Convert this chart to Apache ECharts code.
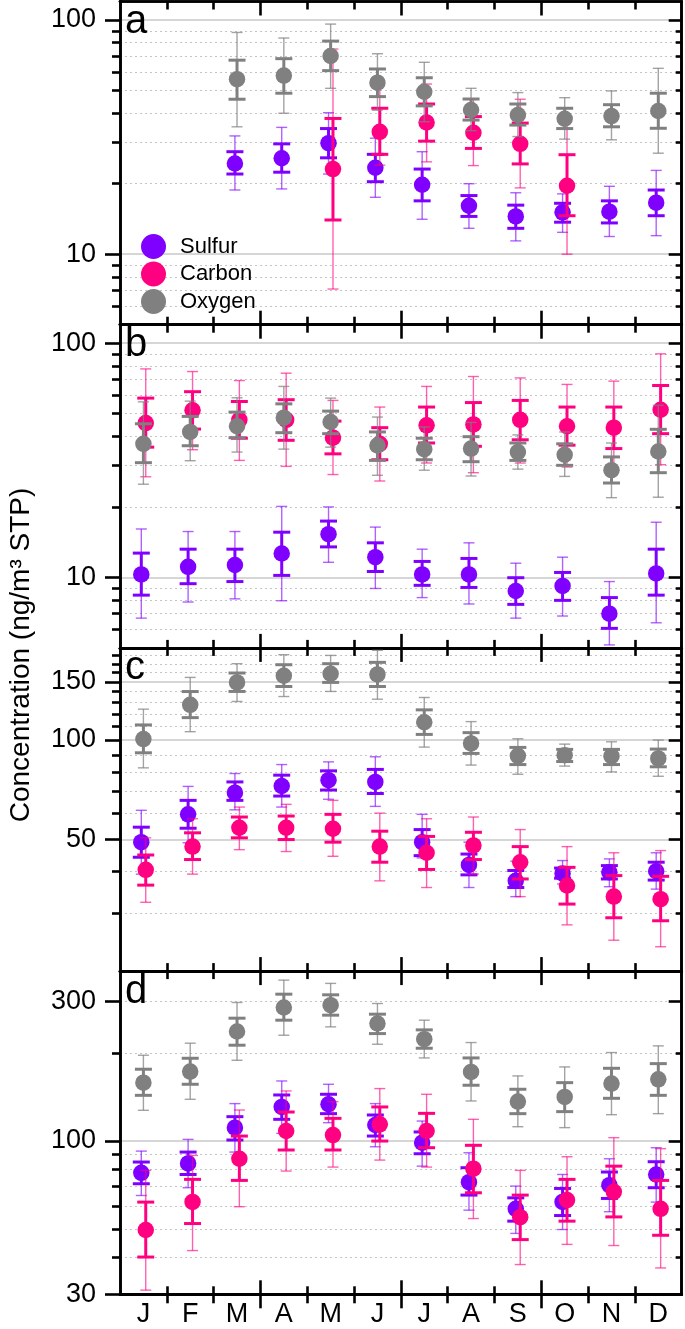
<!DOCTYPE html>
<html>
<head>
<meta charset="utf-8">
<script src="https://cdn.jsdelivr.net/npm/echarts@6/dist/echarts.min.js"></script>
<style>
html,body{margin:0;padding:0;background:#fff;}
#chart{width:685px;height:1329px;}
</style>
</head>
<body>
<div id="chart"></div>
<script>
// ---------- categories / ticks ----------
const months = ['J','F','M','A','M','J','J','A','S','O','N','D'];
const monthPos = [1,2,3,4,5,6,7,8,9,10,11,12];
const monthBoundsMinor = [1.5,2.5,4.5,5.5,7.5,8.5,10.5,11.5];
const monthBoundsMajor = [3.5,6.5,9.5];
const seriesNames = ['Sulfur','Carbon','Oxygen'];

// y ticks per panel
const abMajor = [10,100];
const abMinor = [6,7,8,9,20,30,40,50,60,70,80,90];
const cMajor = [50,100,150];
const cMinor = [30,40,60,70,80,90,110,120,130,140,160,170,180];
const dMajor = [30,100,300];
const dMinor = [40,50,60,70,80,90,200];
const dSolid = [100];
const dDotted = [40,50,60,70,80,90,200,300];

// ---------- data ----------
// rows: [month, mean, innerLow, innerHigh, outerLow, outerHigh]
const aSulfur = [
 [3,24.4,22.0,27.4,18.8,32.0],[4,25.7,22.4,29.6,19.0,34.8],[5,29.8,25.8,34.4,22.0,40.2],
 [6,23.4,20.4,26.7,17.5,31.3],[7,19.8,16.9,23.1,14.1,27.4],[8,16.1,14.5,17.8,12.9,20.0],
 [9,14.5,12.9,16.2,11.4,18.3],[10,15.1,13.7,16.5,12.4,18.1],[11,15.2,13.6,16.9,11.9,19.5],
 [12,16.6,14.6,18.8,12.0,22.8]
];
const aCarbon = [
 [5,23.1,14.0,38.0,7.1,75.2],[6,33.3,26.7,42.0,24.0,55.1],[7,36.5,30.4,43.8,24.8,53.3],
 [8,33.0,28.3,38.7,23.9,46.0],[9,29.6,24.3,36.3,19.2,45.9],[10,19.6,14.6,26.6,10.0,38.4]
];
const aOxygen = [
 [3,55.9,45.9,67.4,35.0,88.5],[4,57.9,48.7,68.4,40.0,83.8],[5,70.2,60.8,81.3,51.1,96.1],
 [6,54.0,47.1,61.8,41.2,71.8],[7,49.4,43.0,56.7,36.8,66.0],[8,41.3,37.4,46.0,33.7,51.1],
 [9,39.3,35.6,43.8,31.8,49.0],[10,37.9,34.4,42.0,31.0,46.6],[11,38.9,35.0,43.5,30.8,49.8],
 [12,40.9,34.5,48.7,27.0,62.2]
];
const bSulfur = [
 [1,10.3,8.4,12.7,6.7,16.1],[2,11.1,9.4,13.2,7.85,15.7],[3,11.3,9.6,13.2,8.1,15.7],
 [4,12.65,10.2,15.6,7.95,20.1],[5,15.3,13.5,17.4,11.6,20.0],[6,12.2,10.6,14.05,8.97,16.4],
 [7,10.3,9.25,11.7,8.2,13.2],[8,10.3,9.06,12.05,7.7,14.05],[9,8.75,7.67,9.97,6.7,11.5],
 [10,9.2,7.98,10.5,6.84,12.2],[11,7.0,6.06,8.2,5.15,9.6],[12,10.4,8.4,13.2,6.4,17.2]
];
const bCarbon = [
 [1,45.6,36.0,58.3,26.9,77.7],[2,51.7,43.0,62.1,35.1,75.7],[3,47.1,39.3,56.4,31.6,69.3],
 [4,47.1,38.5,57.4,29.8,74.5],[5,39.5,33.7,46.5,27.5,57.0],[6,37.2,31.8,43.6,25.8,53.4],
 [7,44.6,37.5,53.4,30.8,65.4],[8,45.0,36.3,55.8,28.0,72.1],[9,47.1,38.7,57.0,30.8,71.1],
 [10,44.2,36.7,53.4,29.6,66.7],[11,43.6,35.5,53.4,28.8,68.9],[12,52.0,41.1,66.0,30.3,90.1]
];
const bOxygen = [
 [1,37.2,30.9,45.3,25.0,56.2],[2,41.8,36.5,48.7,31.5,56.6],[3,44.2,39.5,50.8,34.3,58.5],
 [4,48.1,41.5,55.1,35.3,65.4],[5,46.1,41.1,51.3,36.0,58.3],[6,36.6,31.6,41.8,27.3,48.4],
 [7,35.3,31.8,39.3,28.7,43.9],[8,35.5,31.2,39.9,27.1,45.9],[9,34.3,31.6,37.5,29.0,40.6],
 [10,33.4,30.1,37.2,27.0,41.8],[11,28.7,25.3,32.7,21.9,37.5],[12,34.5,28.0,42.9,22.0,54.3]
];
const cSulfur = [
 [1,49.1,44.2,54.5,39.3,61.3],[2,59.6,54.1,65.7,48.9,72.4],[3,69.3,65.7,74.7,61.5,79.2],
 [4,72.6,67.7,78.3,62.7,84.3],[5,75.6,70.6,80.7,66.2,85.9],[6,74.7,68.9,81.5,63.0,89.0],
 [7,49.1,44.7,53.6,44.0,59.6],[8,41.9,39.1,45.2,35.8,49.1],[9,37.5,35.8,40.3,33.6,43.0],
 [10,39.5,38.2,41.0,36.7,43.2],[11,39.8,38.0,41.7,36.0,43.7],[12,40.1,37.7,42.7,35.4,45.6]
];
const cCarbon = [
 [1,40.5,36.4,44.9,32.3,50.6],[2,47.6,43.5,52.4,39.3,57.8],[3,54.3,50.6,58.5,46.6,62.7],
 [4,54.3,50.0,58.9,46.0,63.9],[5,53.9,49.1,59.6,44.5,65.7],[6,47.6,42.7,53.0,37.5,60.1],
 [7,45.6,40.6,51.1,35.8,57.8],[8,48.0,43.5,52.6,39.3,58.5],[9,42.7,38.0,47.6,33.6,53.6],
 [10,36.3,31.9,41.2,27.6,47.6],[11,33.6,29.0,38.9,24.8,45.6],[12,33.0,28.4,38.7,23.7,46.3]
];
const cOxygen = [
 [1,100.7,91.5,111.1,82.4,124.0],[2,127.8,116.9,140.2,106.0,154.7],[3,149.4,140.3,159.5,130.8,170.2],
 [4,156.5,145.2,169.0,135.4,181.2],[5,158.7,149.4,170.2,140.3,180.3],[6,158.0,145.2,171.8,132.9,186.8],
 [7,113.2,104.0,123.4,95.2,134.5],[8,97.7,91.1,105.3,84.0,113.7],[9,89.6,84.3,95.0,78.8,100.9],
 [10,90.0,86.1,93.7,83.4,97.2],[11,89.4,84.3,93.7,80.1,98.8],[12,88.0,83.0,93.9,77.7,100.0]
];
const dSulfur = [
 [1,77.9,71.5,84.8,65.2,92.4],[2,83.9,76.9,91.7,69.3,101.3],[3,111.1,100.8,121.1,91.7,134.2],
 [4,130.7,118.6,143.6,106.2,160.3],[5,133.5,124.0,144.4,115.5,156.2],[6,113.4,104.0,122.7,95.6,134.2],
 [7,98.7,90.5,107.4,82.1,117.0],[8,72.4,65.4,81.1,58.1,91.2],[9,58.7,53.3,64.0,48.4,70.2],
 [10,62.0,55.7,68.9,49.9,76.9],[11,70.7,63.7,78.4,57.4,87.0],[12,76.9,69.3,85.0,61.9,94.9]
];
const dCarbon = [
 [1,49.7,40.2,61.9,31.0,79.4],[2,62.0,52.3,74.0,42.3,89.3],[3,87.0,73.4,104.0,59.7,127.6],
 [4,108.2,93.2,125.6,79.0,148.2],[5,104.8,93.2,119.5,81.5,136.3],[6,114.0,100.0,130.7,86.1,151.0],
 [7,108.2,94.9,124.3,81.5,144.4],[8,80.5,66.6,96.7,54.4,118.6],[9,55.0,46.1,65.4,37.9,79.4],
 [10,62.9,53.3,74.0,44.4,88.4],[11,67.1,55.1,82.1,44.0,102.7],[12,58.7,47.7,73.4,36.9,94.2]
];
const dOxygen = [
 [1,158.2,143.2,175.8,127.3,196.2],[2,172.6,156.2,191.6,138.8,215.7],[3,236.4,212.3,262.5,188.6,297.0],
 [4,285.5,258.4,317.0,229.6,354.0],[5,290.8,268.8,315.4,245.2,345.0],[6,251.8,232.6,270.9,213.9,294.6],
 [7,222.6,207.3,239.5,192.1,258.4],[8,172.1,155.0,192.1,137.0,216.8],[9,136.3,124.0,150.2,111.9,166.8],
 [10,141.4,126.0,158.2,111.1,179.0],[11,157.0,139.9,177.1,123.0,200.4],[12,162.4,143.2,183.7,124.0,211.2]
];

// ---------- styling / layout ----------
const FONT = '"Liberation Sans", Arial, Helvetica, sans-serif';
const colors = {Sulfur:'#7f00ff', Carbon:'#ff0080', Oxygen:'#808080'};
const thinColors = {Sulfur:'rgba(127,0,255,0.62)', Carbon:'rgba(255,0,128,0.62)', Oxygen:'rgba(128,128,128,0.72)'};
const xOffset = {Sulfur:-0.045, Carbon:0.05, Oxygen:0};

const panels = [
  {letter:'a', min:5,  max:120, major:abMajor, minor:abMinor, solid:abMajor, dotted:abMinor, data:[aSulfur,aCarbon,aOxygen]},
  {letter:'b', min:5,  max:120, major:abMajor, minor:abMinor, solid:abMajor, dotted:abMinor, data:[bSulfur,bCarbon,bOxygen]},
  {letter:'c', min:20, max:190, major:cMajor,  minor:cMinor,  solid:cMajor,  dotted:cMinor,  data:[cSulfur,cCarbon,cOxygen]},
  {letter:'d', min:30, max:380, major:dMajor,  minor:dMinor,  solid:dSolid,  dotted:dDotted, data:[dSulfur,dCarbon,dOxygen]}
];

const GRID_TOP0 = 1.5, GRID_H = 323.2, LEFT = 120, RIGHT = 3.3;

function makeErrorBar(thick, thin) {
  return function (params, api) {
    const x = api.value(0);
    const oLo = api.coord([x, api.value(4)]);
    const oHi = api.coord([x, api.value(5)]);
    const iLo = api.coord([x, api.value(2)]);
    const iHi = api.coord([x, api.value(3)]);
    const cx = oLo[0];
    const seg = (x1, y1, x2, y2, color, w) => ({type:'line', shape:{x1, y1, x2, y2}, style:{stroke:color, lineWidth:w}});
    return {type:'group', children:[
      seg(cx, oLo[1], cx, oHi[1], thin, 1.4),
      seg(cx - 5.5, oLo[1], cx + 5.5, oLo[1], thin, 1.4),
      seg(cx - 5.5, oHi[1], cx + 5.5, oHi[1], thin, 1.4),
      seg(cx, iLo[1], cx, iHi[1], thick, 3),
      seg(cx - 8.5, iLo[1], cx + 8.5, iLo[1], thick, 3),
      seg(cx - 8.5, iHi[1], cx + 8.5, iHi[1], thick, 3)
    ]};
  };
}

const grid = [], xAxis = [], yAxis = [], series = [], graphic = [];
const AX = {color:'#000', width:2.6};

panels.forEach((p, i) => {
  const top = GRID_TOP0 + i * GRID_H;
  grid.push({left:LEFT, right:RIGHT, top:top, height:GRID_H, containLabel:false, outerBoundsMode:'none'});

  const mkX = (pos, vals, len, inside, extra) => Object.assign({
    type:'value', gridIndex:i, position:pos, min:0.5, max:12.5,
    axisLine:{show:true, lineStyle:AX},
    axisTick:{show:true, inside:inside, length:len, customValues:vals, lineStyle:AX},
    axisLabel:{show:false}, splitLine:{show:false}
  }, extra || {});
  const xBase = xAxis.length;
  xAxis.push(mkX('bottom', monthBoundsMinor, 8, true));
  xAxis.push(mkX('bottom', monthBoundsMajor, 14, true));
  xAxis.push(mkX('top', monthBoundsMinor, 8, true));
  xAxis.push(mkX('top', monthBoundsMajor, 14, true));
  if (i === panels.length - 1) {
    xAxis.push(mkX('bottom', monthBoundsMinor, 9, false, {
      axisLabel:{show:true, customValues:monthPos, formatter:v => months[Math.round(v) - 1],
        fontSize:27, color:'#000', margin:7, fontFamily:FONT}
    }));
    xAxis.push(mkX('bottom', monthBoundsMajor, 14, false));
  }

  const mkY = (pos, vals, len, inside, extra) => Object.assign({
    type:'log', logBase:10, gridIndex:i, position:pos, min:p.min, max:p.max,
    axisLine:{show:true, lineStyle:AX},
    axisTick:{show:true, inside:inside, length:len, customValues:vals, lineStyle:AX},
    axisLabel:{show:false}, splitLine:{show:false}
  }, extra || {});
  const yBase = yAxis.length;
  yAxis.push(mkY('left', p.major, 15, false, {
    axisLabel:{show:true, customValues:p.major, fontSize:27, color:'#000', margin:24, fontFamily:FONT,
      formatter:v => String(Math.round(v))}
  }));
  yAxis.push(mkY('left', p.minor, 8, false));
  yAxis.push(mkY('right', p.major, 13, true));
  yAxis.push(mkY('right', p.minor, 6, true));
  yAxis.push(mkY('left', p.solid, 0, true, {
    axisLine:{show:false}, axisTick:{show:false, customValues:p.solid},
    splitLine:{show:true, lineStyle:{color:'#c8c8c8', width:1.5}}
  }));
  yAxis.push(mkY('left', p.dotted, 0, true, {
    axisLine:{show:false}, axisTick:{show:false, customValues:p.dotted},
    splitLine:{show:true, lineStyle:{color:'#c4c4c4', width:1, type:[2, 3]}}
  }));

  p.data.forEach((rows, k) => {
    const name = seriesNames[k];
    const off = xOffset[name];
    series.push({
      type:'custom', name:name, xAxisIndex:xBase, yAxisIndex:yBase, z:3 + k * 2,
      renderItem:makeErrorBar(colors[name], thinColors[name]),
      data:rows.map(r => [r[0] + off, r[1], r[2], r[3], r[4], r[5]]),
      encode:{x:0, y:[1, 2, 3, 4, 5]}, silent:true, clip:false,
      itemStyle:{color:colors[name]}
    });
    series.push({
      type:'scatter', name:name, xAxisIndex:xBase, yAxisIndex:yBase, z:4 + k * 2,
      symbol:'circle', symbolSize:16.5, itemStyle:{color:colors[name], opacity:1},
      data:rows.map(r => [r[0] + off, r[1]]), silent:true
    });
  });

  graphic.push({
    type:'text', left:125, top:top + 0.5, z:50,
    style:{text:p.letter, font:'40px ' + FONT, fill:'#000'}
  });
});

graphic.push({
  type:'text', x:21, y:655, rotation:Math.PI / 2, z:50,
  style:{text:'Concentration (ng/m³ STP)', font:'28px ' + FONT, fill:'#000', align:'center', verticalAlign:'middle'}
});

const chart = echarts.init(document.getElementById('chart'), null, {renderer:'canvas'});
chart.setOption({
  animation:false,
  backgroundColor:'#fff',
  grid:grid, xAxis:xAxis, yAxis:yAxis, series:series, graphic:graphic,
  legend:{
    orient:'vertical', left:136, top:229, itemWidth:25, itemHeight:25, itemGap:2.5,
    icon:'circle', selectedMode:false,
    textStyle:{fontSize:22, color:'#000', fontFamily:FONT, padding:[0, 0, 0, 9]},
    data:seriesNames.map(n => ({name:n, itemStyle:{color:colors[n]}}))
  }
});
</script>
</body>
</html>
